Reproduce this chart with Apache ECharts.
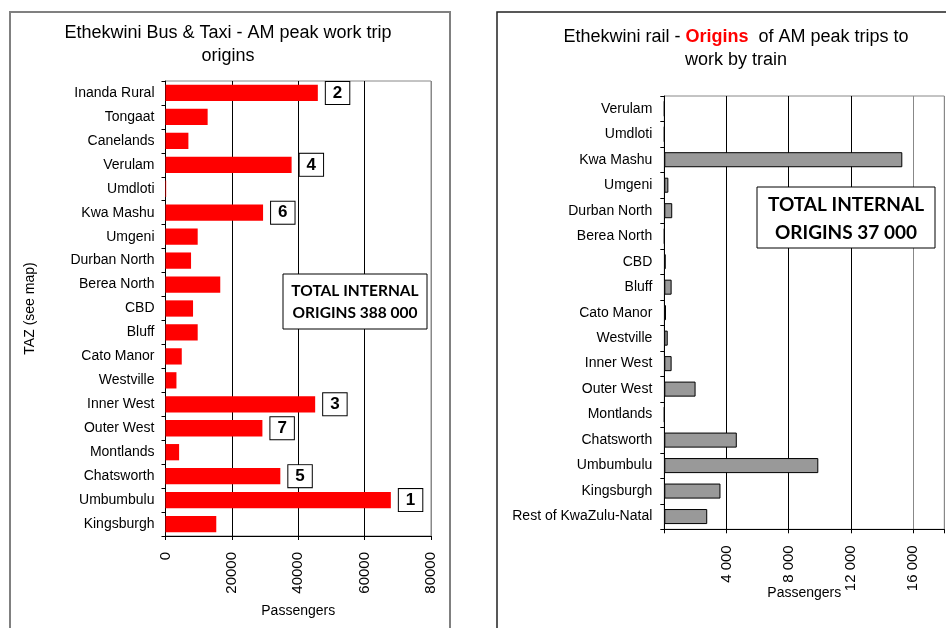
<!DOCTYPE html>
<html>
<head>
<meta charset="utf-8">
<script src="https://cdn.jsdelivr.net/npm/echarts@6/dist/echarts.min.js"></script>
<style>html,body{margin:0;padding:0;background:#fff}#c{width:946px;height:628px}</style>
</head>
<body>
<div id="c"></div>
<script>
// Left chart: Bus & Taxi
const busCategories = ['Inanda Rural','Tongaat','Canelands','Verulam','Umdloti','Kwa Mashu','Umgeni','Durban North','Berea North','CBD','Bluff','Cato Manor','Westville','Inner West','Outer West','Montlands','Chatsworth','Umbumbulu','Kingsburgh'];
const busValues = [45900,12700,6900,38000,200,29400,9700,7700,16500,8300,9700,4900,3300,45100,29200,4100,34600,67900,15300];
const busRanks = [2,null,null,4,null,6,null,null,null,null,null,null,null,3,7,null,5,1,null];
const busTicks = [0,20000,40000,60000,80000];

// Right chart: Rail
const railCategories = ['Verulam','Umdloti','Kwa Mashu','Umgeni','Durban North','Berea North','CBD','Bluff','Cato Manor','Westville','Inner West','Outer West','Montlands','Chatsworth','Umbumbulu','Kingsburgh','Rest of KwaZulu-Natal'];
const railValues = [0,0,15300,260,510,0,90,470,110,220,470,2010,0,4660,9900,3610,2760];
const railTicks = [4000,8000,12000,16000];

const FONT = '"Liberation Sans", Arial, sans-serif';
const chart = echarts.init(document.getElementById('c'));

const busData = busValues.map((v, i) => ({
  value: v,
  label: busRanks[i] != null ? {show: true, formatter: String(busRanks[i])} : {show: false}
}));

function spaced(v){ return String(v).replace(/\B(?=(\d{3})+(?!\d))/g, ' '); }

chart.setOption({
  animation: false,
  textStyle: {fontFamily: FONT},
  grid: [
    {left: 165.5, top: 81, width: 265.5, height: 455, show: true, borderColor: '#888', borderWidth: 1},
    {left: 664.3, top: 96, width: 280, height: 433.3, show: true, borderColor: '#888', borderWidth: 1}
  ],
  xAxis: [
    {
      type: 'value', gridIndex: 0, min: busTicks[0], max: busTicks[busTicks.length-1], interval: 20000,
      axisLine: {show: true, lineStyle: {color: '#000', width: 1}},
      axisTick: {show: true, length: 4, lineStyle: {color: '#000'}},
      splitLine: {show: true, lineStyle: {color: ['#000','#000','#000','#000','#888'], width: 1}},
      axisLabel: {rotate: 90, margin: 16, fontSize: 15, color: '#000', fontFamily: FONT,
        formatter: v => String(v)},
      name: 'Passengers', nameLocation: 'middle', nameGap: 68, nameMoveOverlap: false,
      nameTextStyle: {fontSize: 14, color: '#000', fontFamily: FONT}
    },
    {
      type: 'value', gridIndex: 1, min: 0, max: 18000, interval: 4000,
      axisLine: {show: true, lineStyle: {color: '#000', width: 1}},
      axisTick: {show: true, length: 4, lineStyle: {color: '#000'}},
      splitLine: {show: true, lineStyle: {color: ['#000','#000','#000','#000','#888','#888'], width: 1}},
      axisLabel: {rotate: 90, margin: 16, fontSize: 15, color: '#000', fontFamily: FONT,
        formatter: v => railTicks.indexOf(v) >= 0 ? spaced(v) : ''},
      name: 'Passengers', nameLocation: 'middle', nameGap: 57, nameMoveOverlap: false,
      nameTextStyle: {fontSize: 14, color: '#000', fontFamily: FONT}
    }
  ],
  yAxis: [
    {
      type: 'category', gridIndex: 0, data: busCategories, inverse: true,
      axisLine: {show: true, lineStyle: {color: '#000', width: 1}},
      axisTick: {show: true, length: 4, lineStyle: {color: '#000'}},
      axisLabel: {fontSize: 14, color: '#000', margin: 11, fontFamily: FONT},
      name: 'TAZ (see map)', nameLocation: 'middle', nameRotate: 90, nameGap: 128, nameMoveOverlap: false,
      nameTextStyle: {fontSize: 14, color: '#000', fontFamily: FONT}
    },
    {
      type: 'category', gridIndex: 1, data: railCategories, inverse: true,
      axisLine: {show: true, lineStyle: {color: '#000', width: 1}},
      axisTick: {show: true, length: 4, lineStyle: {color: '#000'}},
      axisLabel: {fontSize: 14, color: '#000', margin: 12, fontFamily: FONT}
    }
  ],
  series: [
    {
      type: 'bar', xAxisIndex: 0, yAxisIndex: 0, data: busData, barCategoryGap: '32%',
      itemStyle: {color: '#ff0000'},
      label: {position: 'right', distance: 8, fontSize: 17, fontWeight: 'bold', color: '#000',
        fontFamily: FONT, backgroundColor: '#fff', borderColor: '#000', borderWidth: 1,
        padding: [3, 7, 2, 7], lineHeight: 17}
    },
    {
      type: 'bar', xAxisIndex: 1, yAxisIndex: 1, data: railValues, barCategoryGap: '41%',
      itemStyle: {color: '#999999', borderColor: '#000', borderWidth: 1}
    }
  ],
  graphic: [
    {type: 'rect', shape: {x: 10, y: 12, width: 440, height: 640}, style: {fill: 'none', stroke: '#808080', lineWidth: 2}, z: 1},
    {type: 'rect', shape: {x: 497, y: 12, width: 470, height: 640}, style: {fill: 'none', stroke: '#222', lineWidth: 1.5}, z: 1},
    {type: 'text', x: 228, y: 44.5, style: {text: 'Ethekwini Bus & Taxi - AM peak work trip\norigins',
      font: '18px ' + FONT, fill: '#000', align: 'center', verticalAlign: 'middle', lineHeight: 23}},
    {type: 'text', x: 736, y: 49, style: {
      text: 'Ethekwini rail - {r|Origins}  of AM peak trips to\nwork by train',
      font: '18px ' + FONT, fill: '#000', align: 'center', verticalAlign: 'middle', lineHeight: 23,
      rich: {r: {fontWeight: 'bold', fill: '#ff0000', color: '#ff0000', fontSize: 18, fontFamily: FONT, lineHeight: 23}}}},
    {type: 'rect', z: 100, shape: {x: 283, y: 274, width: 144, height: 55}, style: {fill: '#fff', stroke: '#000', lineWidth: 1}},
    {type: 'text', z: 101, x: 355, y: 302, style: {text: 'TOTAL INTERNAL\nORIGINS 388 000',
      font: 'bold 15.5px Lato, sans-serif', fill: '#000', align: 'center', verticalAlign: 'middle', lineHeight: 22}},
    {type: 'rect', z: 100, shape: {x: 757, y: 187, width: 178, height: 61}, style: {fill: '#fff', stroke: '#000', lineWidth: 1}},
    {type: 'text', z: 101, x: 846, y: 218.5, style: {text: 'TOTAL INTERNAL\nORIGINS 37 000',
      font: 'bold 19px Lato, sans-serif', fill: '#000', align: 'center', verticalAlign: 'middle', lineHeight: 28}}
  ]
});
</script>
</body>
</html>
